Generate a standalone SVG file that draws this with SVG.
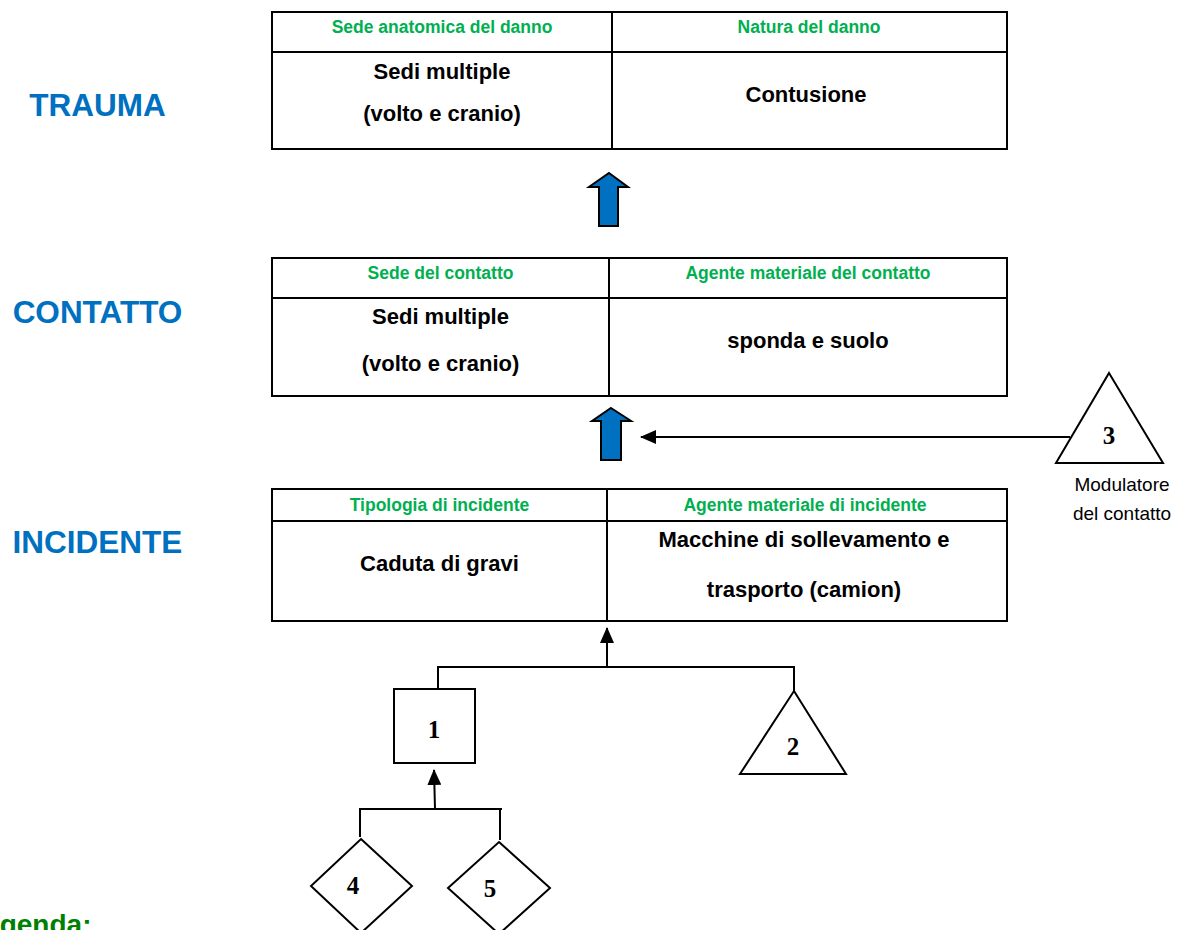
<svg xmlns="http://www.w3.org/2000/svg" width="1182" height="930" viewBox="0 0 1182 930">
<defs>
<style>
.bg{fill:#ffffff}
.cell{fill:#ffffff;stroke:#000000;stroke-width:2}
.ln{fill:none;stroke:#000000;stroke-width:2}
.hdr{font-family:"Liberation Sans",Arial,sans-serif;font-weight:bold;font-size:17.5px;fill:#00B050;text-anchor:middle}
.body{font-family:"Liberation Sans",Arial,sans-serif;font-weight:bold;font-size:22px;fill:#000000;text-anchor:middle}
.lvl{font-family:"Liberation Sans",Arial,sans-serif;font-weight:bold;font-size:31.5px;fill:#0070C0;text-anchor:middle}
.num{font-family:"Liberation Serif","Times New Roman",serif;font-weight:bold;font-size:25px;fill:#000000;text-anchor:middle}
.note{font-family:"Liberation Sans",Arial,sans-serif;font-size:19px;fill:#000000;text-anchor:middle}
.blk{fill:#0070C0;stroke:#000000;stroke-width:2;stroke-linejoin:miter}
.shape{fill:#ffffff;stroke:#000000;stroke-width:2}
.leg{font-family:"Liberation Sans",Arial,sans-serif;font-weight:bold;font-size:28px;fill:#008000}
</style>
<marker id="ah" viewBox="0 0 16 14" markerWidth="16" markerHeight="14" refX="15" refY="7" orient="auto" markerUnits="userSpaceOnUse">
<path d="M0,0 L16,7 L0,14 Z" fill="#000000"/>
</marker>
</defs>
<rect class="bg" x="0" y="0" width="1182" height="930"/>

<g id="label-trauma"><text class="lvl" x="97.5" y="116">TRAUMA</text></g>
<g id="label-contatto"><text class="lvl" x="97.5" y="323">CONTATTO</text></g>
<g id="label-incidente"><text class="lvl" x="97.5" y="553">INCIDENTE</text></g>

<g id="table-trauma">
<rect class="cell" x="272" y="12" width="735" height="137"/>
<line class="ln" x1="272" y1="52" x2="1007" y2="52"/>
<line class="ln" x1="612" y1="12" x2="612" y2="149"/>
<text class="hdr" x="442" y="33">Sede anatomica del danno</text>
<text class="hdr" x="809" y="33">Natura del danno</text>
<text class="body" x="442" y="79">Sedi multiple</text>
<text class="body" x="442" y="121">(volto e cranio)</text>
<text class="body" x="806" y="102">Contusione</text>
</g>

<g id="table-contatto">
<rect class="cell" x="272" y="258" width="735" height="138"/>
<line class="ln" x1="272" y1="298" x2="1007" y2="298"/>
<line class="ln" x1="609" y1="258" x2="609" y2="396"/>
<text class="hdr" x="440.5" y="279">Sede del contatto</text>
<text class="hdr" x="808" y="279">Agente materiale del contatto</text>
<text class="body" x="440.5" y="324">Sedi multiple</text>
<text class="body" x="440.5" y="371">(volto e cranio)</text>
<text class="body" x="808" y="348">sponda e suolo</text>
</g>

<g id="table-incidente">
<rect class="cell" x="272" y="489" width="735" height="132"/>
<line class="ln" x1="272" y1="521" x2="1007" y2="521"/>
<line class="ln" x1="607" y1="489" x2="607" y2="621"/>
<text class="hdr" x="439.5" y="511">Tipologia di incidente</text>
<text class="hdr" x="805" y="511">Agente materiale di incidente</text>
<text class="body" x="439.5" y="571">Caduta di gravi</text>
<text class="body" x="804" y="547">Macchine di sollevamento e</text>
<text class="body" x="804" y="597">trasporto (camion)</text>
</g>

<g id="node-3">
<polygon class="shape" points="1109,373 1163,463 1056,463"/>
<text class="num" x="1109" y="444">3</text>
<text class="note" x="1122" y="491">Modulatore</text>
<text class="note" x="1122" y="520">del contatto</text>
</g>

<g id="node-1">
<rect class="shape" x="394" y="689" width="81" height="74"/>
<text class="num" x="434" y="738">1</text>
</g>

<g id="node-2">
<polygon class="shape" points="794,691 846,774 740,774"/>
<text class="num" x="793" y="755">2</text>
</g>

<g id="node-4">
<polygon class="shape" points="361,839 412,886 361,933 311,886"/>
<text class="num" x="353" y="894">4</text>
</g>

<g id="node-5">
<polygon class="shape" points="499,842 550,888 499,934 448,888"/>
<text class="num" x="490" y="897">5</text>
</g>

<g id="connectors">
<path class="blk" d="M609,173 L628,187 L618,187 L618,226 L599,226 L599,187 L589,187 Z"/>
<path class="blk" d="M611,408 L631,421 L621,421 L621,460 L601,460 L601,421 L592,421 Z"/>
<line class="ln" x1="1070" y1="437" x2="641" y2="437" marker-end="url(#ah)"/>
<polyline class="ln" points="438,689 438,667 794,667 794,691"/>
<line class="ln" x1="607" y1="667" x2="607" y2="628" marker-end="url(#ah)"/>
<polyline class="ln" points="360,837 360,809 502,809"/>
<line class="ln" x1="500" y1="809" x2="500" y2="840"/>
<line class="ln" x1="435" y1="809" x2="434" y2="770" marker-end="url(#ah)"/>
</g>

<g id="legend"><text class="leg" x="-33" y="934">Legenda:</text></g>
</svg>
